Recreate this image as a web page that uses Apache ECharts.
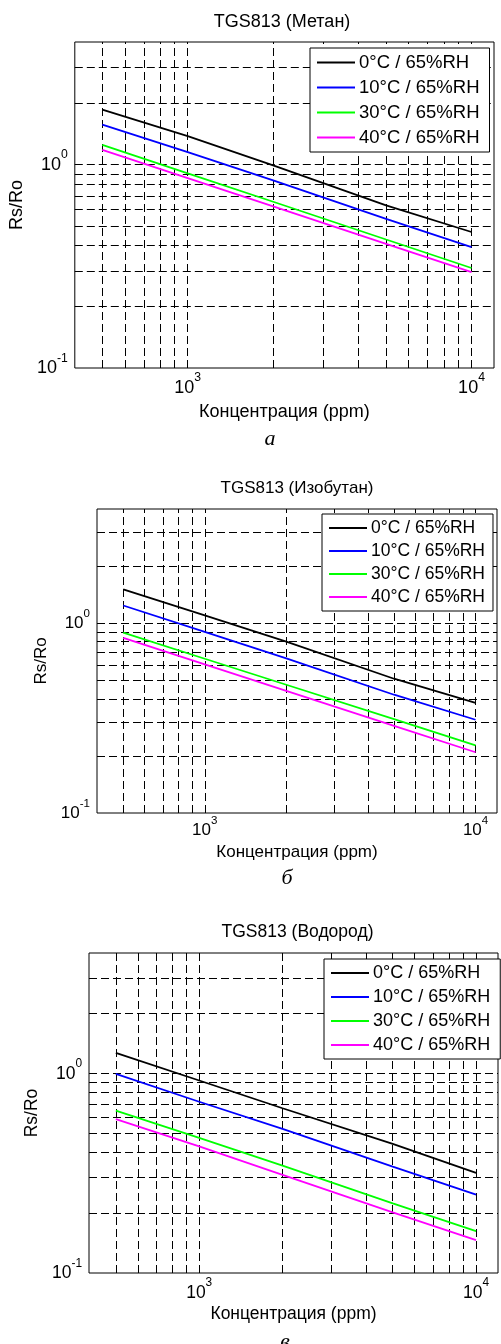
<!DOCTYPE html>
<html>
<head>
<meta charset="utf-8">
<title>TGS813</title>
<script src="https://cdn.jsdelivr.net/npm/echarts@6/dist/echarts.min.js"></script>
<style>
    html, body { margin: 0; padding: 0; background: #fff; }
    #chart { width: 501px; height: 1344px; }
</style>
</head>
<body>
<div id="chart"></div>
<script>
// концентрация (ppm)
var conc = [500, 1000, 2000, 5000, 10000];
var names = ['0°C / 65%RH', '10°C / 65%RH', '30°C / 65%RH', '40°C / 65%RH'];
var colors = ['#000000', '#0000ff', '#00ff00', '#ff00ff'];

// Метан
var metan0 = [1.86, 1.38, 0.99, 0.63, 0.466];
var metan10 = [1.57, 1.15, 0.835, 0.54, 0.393];
var metan30 = [1.25, 0.905, 0.656, 0.428, 0.31];
var metan40 = [1.18, 0.857, 0.622, 0.407, 0.296];
// Изобутан
var izobutan0 = [1.51, 1.10, 0.80, 0.51, 0.38];
var izobutan10 = [1.24, 0.90, 0.653, 0.42, 0.31];
var izobutan30 = [0.893, 0.65, 0.474, 0.312, 0.227];
var izobutan40 = [0.837, 0.607, 0.44, 0.288, 0.209];
// Водород
var vodorod0 = [1.265, 0.92, 0.668, 0.443, 0.317];
var vodorod10 = [0.993, 0.72, 0.527, 0.341, 0.247];
var vodorod30 = [0.65, 0.475, 0.345, 0.223, 0.162];
var vodorod40 = [0.589, 0.43, 0.31, 0.201, 0.146];

// линии сетки
var xGrid = [500, 600, 700, 800, 900, 1000, 2000, 3000, 4000, 5000, 6000, 7000, 8000, 9000, 10000];
var yGrid = [0.2, 0.3, 0.4, 0.5, 0.6, 0.7, 0.8, 0.9, 1, 2, 3];

var FONT = '"Liberation Sans", Arial, sans-serif';

var charts = [
    { title: 'TGS813 (Метан)', caption: 'а', data: [metan0, metan10, metan30, metan40],
      fs: 18, lfs: 18.5, grid: { left: 70, top: 42, width: 424, height: 326 }, xmax: 12000,
      titleTop: 13, yGap: 44, xGap: 35, xMargin: 4,
      legend: { left: 310, top: 48, gap: 6, pr: 10 }, cap: [270, 439] },
    { title: 'TGS813 (Изобутан)', caption: 'б', data: [izobutan0, izobutan10, izobutan30, izobutan40],
      fs: 17, lfs: 17.5, grid: { left: 97, top: 509, width: 400, height: 304 }, xmax: 12000,
      titleTop: 480, yGap: 42, xGap: 31, xMargin: 2,
      legend: { left: 322, top: 514, gap: 5, pr: 8 }, cap: [287, 878] },
    { title: 'TGS813 (Водород)', caption: 'в', data: [vodorod0, vodorod10, vodorod30, vodorod40],
      fs: 17.5, lfs: 18, grid: { left: 89, top: 953, width: 417, height: 320 }, xmax: 12000,
      titleTop: 923, yGap: 44, xGap: 32, xMargin: 4,
      legend: { left: 324, top: 959, gap: 6, pr: 10 }, cap: [285, 1342] }
];

function powLabel(v) {
    var p = Math.log(v) / Math.LN10;
    var r = Math.round(p);
    if (Math.abs(p - r) > 1e-6) return '';
    return '{a|10}{b|' + r + '}';
}

function richFor(fs) {
    return {
        a: { fontSize: fs, fontFamily: FONT, color: '#000', padding: [7, 0, 0, 0] },
        b: { fontSize: fs * 0.68, fontFamily: FONT, color: '#000', verticalAlign: 'top' }
    };
}

var option = {
    animation: false,
    backgroundColor: '#fff',
    title: [], legend: [], grid: [], xAxis: [], yAxis: [], series: [], graphic: []
};

var gridLineStyle = { color: '#000', width: 1, type: [8, 4] };

charts.forEach(function (c, i) {
    option.title.push({
        text: c.title, left: c.grid.left + c.grid.width / 2, top: c.titleTop,
        textAlign: 'center', padding: 0,
        textStyle: { fontFamily: FONT, fontSize: c.fs, fontWeight: 'normal', color: '#000' }
    });
    option.grid.push({
        left: c.grid.left, top: c.grid.top, width: c.grid.width, height: c.grid.height,
        show: true, borderColor: '#000', borderWidth: 1, backgroundColor: 'transparent'
    });
    option.legend.push({
        data: names, orient: 'vertical', left: c.legend.left, top: c.legend.top,
        padding: [5, c.legend.pr, 5, 7], icon: 'rect', itemWidth: 38, itemHeight: 2,
        itemGap: c.legend.gap,
        backgroundColor: '#fff', borderColor: '#000', borderWidth: 1, z: 10,
        textStyle: { fontFamily: FONT, fontSize: c.lfs, color: '#000', padding: [0, 0, 0, -1] },
        selectedMode: false
    });
    option.xAxis.push({
        type: 'log', logBase: 10, gridIndex: i, min: 400, max: c.xmax,
        name: 'Концентрация (ppm)', nameLocation: 'middle', nameGap: c.xGap,
        nameTextStyle: { fontFamily: FONT, fontSize: c.fs, color: '#000' },
        axisLine: { show: false }, axisTick: { show: false }, splitLine: { show: false },
        axisLabel: { formatter: powLabel, rich: richFor(c.fs), margin: c.xMargin, color: '#000' }
    });
    option.yAxis.push({
        type: 'log', logBase: 10, gridIndex: i, min: 0.1, max: 4,
        name: 'Rs/Ro', nameLocation: 'middle', nameGap: c.yGap,
        nameTextStyle: { fontFamily: FONT, fontSize: c.fs, color: '#000' },
        axisLine: { show: false }, axisTick: { show: false }, splitLine: { show: false },
        axisLabel: { formatter: powLabel, rich: richFor(c.fs), margin: 7, color: '#000', padding: [0, 0, 6, 0] }
    });
    c.data.forEach(function (vals, k) {
        var s = {
            name: names[k], type: 'line', xAxisIndex: i, yAxisIndex: i,
            data: conc.map(function (x, j) { return [x, vals[j]]; }),
            symbol: 'none', z: 3, color: colors[k],
            lineStyle: { color: colors[k], width: 1.8 },
            emphasis: { disabled: true }
        };
        if (k === 0) {
            s.markLine = {
                silent: true, symbol: ['none', 'none'], z: 1,
                label: { show: false }, lineStyle: gridLineStyle,
                emphasis: { disabled: true },
                data: xGrid.map(function (v) { return { xAxis: v }; })
                    .concat(yGrid.map(function (v) { return { yAxis: v }; }))
            };
        }
        option.series.push(s);
    });
    option.graphic.push({
        type: 'text', x: c.cap[0], y: c.cap[1],
        style: {
            text: c.caption, fill: '#000', align: 'center', verticalAlign: 'middle',
            font: 'italic 22px "Liberation Serif", "Times New Roman", serif'
        }
    });
});

var myChart = echarts.init(document.getElementById('chart'));
myChart.setOption(option);
</script>
</body>
</html>
